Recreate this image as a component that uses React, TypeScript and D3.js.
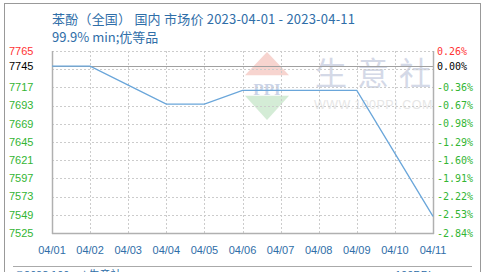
import React from "react";
import * as d3 from "d3";

const dates = ["04/01", "04/02", "04/03", "04/04", "04/05", "04/06", "04/07", "04/08", "04/09", "04/10", "04/11"];
const prices = [7745, 7745, 7720, 7695, 7695, 7713, 7713, 7713, 7713, 7630, 7547];
const baseValue = 7745;
const leftTicks = [7765, 7745, 7717, 7693, 7669, 7645, 7621, 7597, 7573, 7549, 7525];
const gridTicks = [7765, 7741, 7717, 7693, 7669, 7645, 7621, 7597, 7573, 7549, 7525];
const rightTicks = ["0.26%", "0.00%", "-0.36%", "-0.67%", "-0.98%", "-1.29%", "-1.60%", "-1.91%", "-2.22%", "-2.53%", "-2.84%"];
const titleLine1 = "苯酚（全国） 国内 市场价 2023-04-01 - 2023-04-11";
const titleLine2 = "99.9% min;优等品";
const watermarkChars = ["生", "意", "社"];

export default function App() {
  const W = 484, H = 272;
  const left = 52, right = 433, top = 51, bottom = 233;
  const x = d3.scalePoint<string>().domain(dates).range([left, right]);
  const y = d3.scaleLinear().domain([7525, 7765]).range([bottom, top]);
  const line = d3.line<number>().x((_, i) => x(dates[i])!).y(d => y(d));
  const tickColor = (i: number) => (i === 0 ? "#ff3333" : i === 1 ? "#000" : "#33b533");
  const tickVal = (i: number) => (i === 1 ? baseValue : gridTicks[i]);
  return (
    <svg width={W} height={H} style={{ position: "absolute", left: 0, top: 0, background: "#fff" }}
      fontFamily="'Liberation Sans', Arial, sans-serif">
      <rect x={4.5} y={3.5} width={476} height={300} fill="#fff" stroke="#999" />
      <text x={52} y={24} fontSize={13} fill="#2f6ea8" fontFamily="'Noto Sans CJK SC', sans-serif" textLength={303}>{titleLine1}</text>
      <text x={52} y={42} fontSize={13} fill="#2f6ea8" fontFamily="'Noto Sans CJK SC', sans-serif">{titleLine2}</text>

      {/* watermark */}
      <g opacity={0.6}>
        <path d={`M245,${y(7733)} L267,${y(7765) + 1} L289,${y(7733)} Z`} fill="#f3b8b0" />
        <path d={`M245,${y(7706)} L267,${y(7674)} L289,${y(7706)} Z`} fill="#b9e0bc" />
        <text x={267} y={y(7707)} fontSize={17} fontWeight="bold" textAnchor="middle" fill="#a9b8d8" fontFamily="'Liberation Serif', serif">PPI</text>
        {watermarkChars.map((c, i) => (
          <text key={c} x={315 + i * 42} y={85} fontSize={32} fill="#b8c0d8" fontFamily="'Noto Sans CJK SC', sans-serif">{c}</text>
        ))}
        <text x={314} y={109} fontSize={12.5} fill="#d6d6d6" letterSpacing={0.5}>WWW.100PPI.COM</text>
      </g>

      {gridTicks.map((t, i) => (
        <line key={"h" + i} x1={left} x2={right} y1={Math.round(y(t)) + 0.5} y2={Math.round(y(t)) + 0.5}
          stroke="#cccccc" strokeDasharray="2,2" />
      ))}
      {dates.map((d, i) => (
        <line key={"v" + i} x1={Math.round(x(d)!) + 0.5} x2={Math.round(x(d)!) + 0.5} y1={top} y2={bottom}
          stroke="#cccccc" strokeDasharray="2,2" />
      ))}
      <line x1={left} x2={right} y1={Math.round(y(baseValue)) + 0.5} y2={Math.round(y(baseValue)) + 0.5} stroke="#a0a0a0" strokeWidth={1.2} />
      <line x1={left + 0.5} x2={left + 0.5} y1={top} y2={bottom + 1} stroke="#b0b0b0" strokeWidth={1.5} />
      <line x1={right + 0.5} x2={right + 0.5} y1={top} y2={bottom + 1} stroke="#b0b0b0" strokeWidth={1.5} />
      <line x1={left} x2={right + 1} y1={bottom + 0.5} y2={bottom + 0.5} stroke="#b0b0b0" strokeWidth={1.5} />

      <path d={line(prices)!} fill="none" stroke="#6aa6da" strokeWidth={1.3} />

      {leftTicks.map((t, i) => (
        <text key={"l" + i} x={9} y={y(tickVal(i))} dy="0.35em" fontSize={11} fill={tickColor(i)}>{t}</text>
      ))}
      {rightTicks.map((t, i) => (
        <text key={"r" + i} x={437} y={y(tickVal(i))} dy="0.35em" fontSize={10}
          fontFamily="'DejaVu Sans Mono', monospace" fill={tickColor(i)}>{t}</text>
      ))}
      {dates.map((d, i) => (
        <text key={"x" + i} x={x(d)!} y={254} textAnchor="middle" fontSize={11} fill="#2f6ea8">{d}</text>
      ))}

      <line x1={13} x2={472} y1={266.5} y2={266.5} stroke="#aaa" />
      <text x={15} y={279} fontSize={11} fill="#2f6ea8" fontFamily="'Noto Sans CJK SC', sans-serif">©2023 100ppi 生意社</text>
      <text x={395} y={279} fontSize={11} fill="#2f6ea8">100PPI</text>
    </svg>
  );
}
